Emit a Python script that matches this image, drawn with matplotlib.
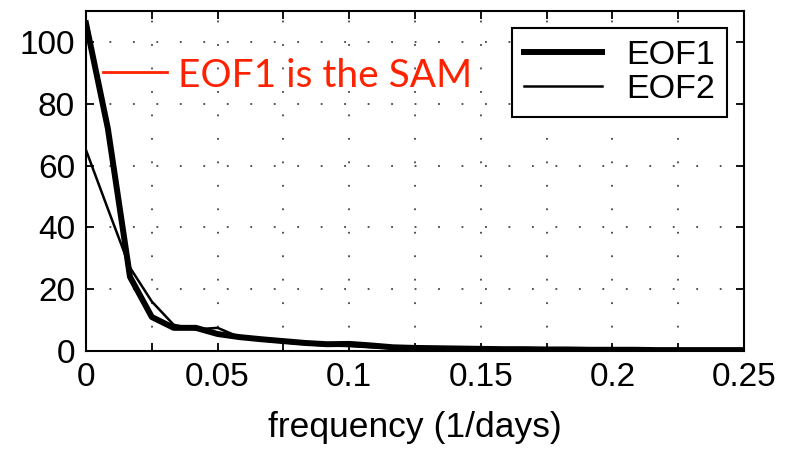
import matplotlib
matplotlib.use("Agg")
import matplotlib.pyplot as plt
from matplotlib.ticker import MultipleLocator

freq = [0.0, 0.0083, 0.0167, 0.025, 0.0333, 0.0417, 0.05, 0.0583, 0.0667, 0.075,
        0.0833, 0.0917, 0.1, 0.1083, 0.1167, 0.125, 0.1333, 0.1417, 0.15, 0.1583,
        0.1667, 0.175, 0.1833, 0.1917, 0.2, 0.2083, 0.2167, 0.225, 0.2333, 0.2417, 0.25]
eof1 = [106, 72, 24, 11, 7.5, 7.5, 5.5, 4.5, 3.8, 3.2, 2.6, 2.2, 2.3, 1.8, 1.2, 1.0,
        0.9, 0.8, 0.7, 0.6, 0.6, 0.5, 0.5, 0.4, 0.4, 0.4, 0.3, 0.3, 0.3, 0.3, 0.3]
eof2 = [65, 46, 27, 16, 8.5, 7.0, 7.5, 4.5, 3.5, 2.8, 2.2, 1.8, 1.6, 1.2, 0.9, 0.7,
        0.6, 0.5, 0.5, 0.4, 0.4, 0.4, 0.3, 0.3, 0.3, 0.3, 0.2, 0.2, 0.2, 0.2, 0.2]
labels = ["EOF1", "EOF2"]
annotation = "EOF1 is the SAM"
xlabel = "frequency (1/days)"

plt.rcParams['font.family'] = ['Liberation Sans', 'DejaVu Sans']

fig = plt.figure(figsize=(7.87, 4.51), dpi=100)
ax = fig.add_axes([0.1093, 0.2217, 0.9454 - 0.1093, 0.9756 - 0.2217])

ax.plot(freq, eof1, color='black', lw=4.3, label=labels[0], solid_joinstyle='round', zorder=3)
ax.plot(freq, eof2, color='black', lw=1.8, label=labels[1], zorder=3)

ax.set_xlim(0, 0.25)
ax.set_ylim(0, 110)
ax.xaxis.set_major_locator(MultipleLocator(0.05))
ax.xaxis.set_minor_locator(MultipleLocator(0.025))
ax.yaxis.set_major_locator(MultipleLocator(20))
ax.set_xticks([0, 0.05, 0.1, 0.15, 0.2, 0.25])
ax.set_xticklabels(["0", "0.05", "0.1", "0.15", "0.2", "0.25"])

ax.grid(True, which='both', axis='x', color='#444444', linestyle=(0, (1, 12)), lw=1.3)
ax.grid(True, which='major', axis='y', color='#444444', linestyle=(0, (1, 12)), lw=1.3)

ax.tick_params(which='both', direction='in', top=True, right=True, labelsize=24,
               width=1.3, pad=8)
ax.tick_params(which='major', length=6)
ax.tick_params(which='minor', length=6)
for s in ax.spines.values():
    s.set_linewidth(1.5)

ax.set_xlabel(xlabel, fontsize=25.5, labelpad=13)

leg = ax.legend(loc='upper right', fontsize=24.5, frameon=True, fancybox=False,
                edgecolor='black', framealpha=1, handlelength=2.3, handletextpad=0.7,
                borderpad=0.35, labelspacing=0.08, borderaxespad=0.5)
leg.get_frame().set_linewidth(1.5)

red = '#ff2200'
ax.plot([0.0065, 0.0308], [90.3, 90.3], color=red, lw=2, zorder=4, clip_on=False)
ax.text(0.035, 85.4, annotation, color=red, fontsize=28, family=['Lato', 'DejaVu Sans'],
        va='baseline', ha='left', zorder=4)

fig.savefig("out.png", dpi=100)
